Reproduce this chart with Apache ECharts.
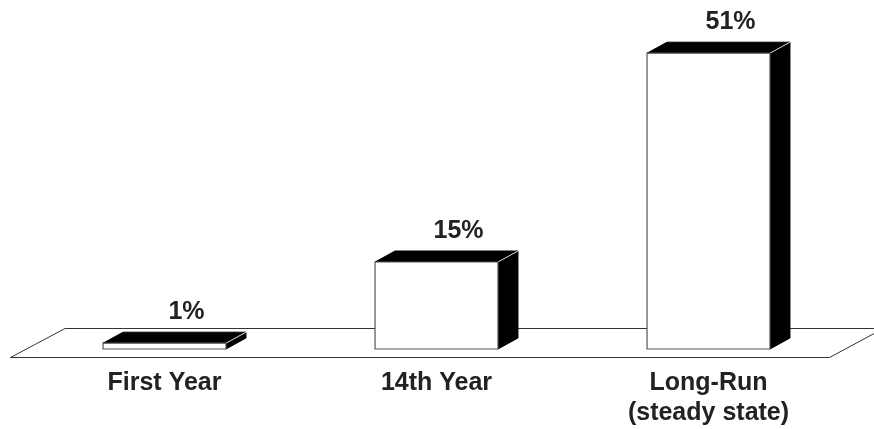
<!DOCTYPE html>
<html>
<head>
<meta charset="utf-8">
<script src="https://cdn.jsdelivr.net/npm/echarts@6/dist/echarts.min.js"></script>
<style>
html,body{margin:0;padding:0;background:#fff;}
#c{width:874px;height:429px;}
</style>
</head>
<body>
<div id="c"></div>
<script>
const categories = ['First Year', '14th Year', 'Long-Run\n(steady state)'];
const values = [1, 15, 51];
const valueLabels = ['1%', '15%', '51%'];

const FONT = "'Liberation Sans', Arial, sans-serif";
const DX = 20, DY = 11;

const chart = echarts.init(document.getElementById('c'), null, {renderer: 'canvas'});

function renderItem(params, api) {
  const cs = params.coordSys;
  const idx = params.dataIndex;
  const x = api.value(0);
  const v = api.value(1);
  const top = api.coord([x, v]);
  const base = api.coord([x, 0]);
  const bw = api.size([1, 0])[0] * 0.452;
  const x0 = top[0] - bw / 2, x1 = top[0] + bw / 2;
  const yt = top[1], yb = base[1];
  const children = [];
  if (idx === 0) {
    const gx = cs.x, gr = cs.x + cs.width;
    children.push({
      type: 'polygon',
      shape: {points: [[gx - 18, yb + 8.5], [gr - 15, yb + 8.5], [gr + 39, yb - 20.5], [gx + 36.5, yb - 20.5]]},
      style: {fill: '#fff', stroke: '#333', lineWidth: 1}
    });
  }
  children.push({
    type: 'polygon',
    shape: {points: [[x1, yt], [x1 + DX, yt - DY], [x1 + DX, yb - DY], [x1, yb]]},
    style: {fill: '#000', stroke: '#000', lineWidth: 1}
  });
  children.push({
    type: 'polygon',
    shape: {points: [[x0, yt], [x1, yt], [x1 + DX, yt - DY], [x0 + DX, yt - DY]]},
    style: {fill: '#000', stroke: '#000', lineWidth: 1}
  });
  children.push({
    type: 'line',
    shape: {x1: x1, y1: yt, x2: x1 + DX, y2: yt - DY},
    style: {stroke: '#ddd', lineWidth: 1}
  });
  children.push({
    type: 'rect',
    shape: {x: x0, y: yt, width: bw, height: yb - yt},
    style: {fill: '#fff', stroke: '#555', lineWidth: 1.2}
  });
  children.push({
    type: 'text',
    style: {
      text: valueLabels[idx],
      x: (x0 + x1) / 2 + DX + 2,
      y: yt - DY - 20,
      align: 'center',
      verticalAlign: 'middle',
      fill: '#222',
      font: 'bold 25px ' + FONT
    }
  });
  return {type: 'group', children: children};
}

chart.setOption({
  animation: false,
  grid: {left: 28.5, width: 816, top: 30, bottom: 80},
  xAxis: {
    type: 'category',
    data: categories,
    axisLine: {show: false},
    axisTick: {show: false},
    axisLabel: {
      color: '#222',
      fontWeight: 'bold',
      fontSize: 25,
      fontFamily: FONT,
      lineHeight: 30,
      margin: 19,
      interval: 0
    }
  },
  yAxis: {type: 'value', min: 0, max: 55, show: false},
  series: [{
    type: 'custom',
    renderItem: renderItem,
    data: values.map((v, i) => [i, v]),
    clip: false
  }]
});
</script>
</body>
</html>
